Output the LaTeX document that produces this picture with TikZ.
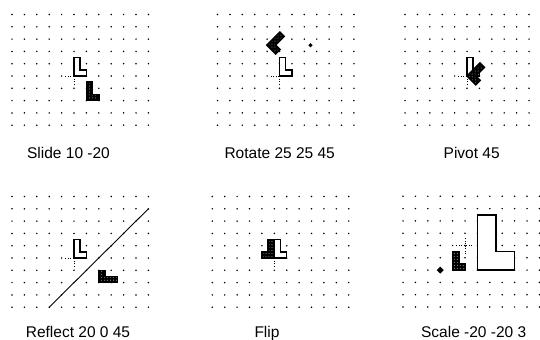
\documentclass[tikz,border=0pt]{standalone}
\usepackage{fontspec}
\setmainfont{Liberation Sans}
\usetikzlibrary{patterns}
\definecolor{ink}{HTML}{000000}
\definecolor{dotgray}{HTML}{B4B4B4}
\newcommand{\ellpath}[1]{\draw[#1] (0,0) -- (10,0) -- (10,5) -- (5,5) -- (5,15) -- (0,15) -- cycle;}
\newcommand{\dotgrid}[2]{\foreach \i in {#1} {\foreach \j in {#2} {\fill[ink] (\i,\j) circle (0.85bp);}}}
\newcommand{\origmark}{\draw[ink,line width=0.9bp,dash pattern=on 0.9bp off 1.6bp] (-7,0) -- (7,0) (0,-7) -- (0,7);}

\begin{document}
\begin{tikzpicture}[x=1.24bp,y=1.23bp,
  hollow/.style={draw=ink,fill=white,line width=1.5bp},
  shaded/.style={draw=ink,line width=1.5bp,preaction={fill=ink},pattern=dots,pattern color=dotgray},
  lbl/.style={anchor=base,inner sep=0pt,font=\fontsize{15.5bp}{18bp}\selectfont}]
\useasboundingbox (0bp,0bp) rectangle (540bp,-340bp);

% top row
\begin{scope}[shift={(74bp,-76bp)}]
\dotgrid{-50,-40,...,60}{-40,-30,...,50}
\origmark
\ellpath{hollow}
\ellpath{shaded,shift={(10,-20)}}
\end{scope}
\begin{scope}[shift={(279.5bp,-76bp)}]
\dotgrid{-50,-40,...,60}{-40,-30,...,50}
\origmark
\ellpath{hollow}
\ellpath{shaded,rotate around={-45:(25,25)}}
\fill[ink] (25,25) +(-1.8,0) -- +(0,1.8) -- +(1.8,0) -- +(0,-1.8) -- cycle;
\end{scope}
\begin{scope}[shift={(467bp,-76bp)}]
\dotgrid{-50,-40,...,50}{-40,-30,...,50}
\origmark
\ellpath{hollow}
\ellpath{shaded,rotate=-45}
\end{scope}

% bottom row
\begin{scope}[shift={(74bp,-258bp)}]
\dotgrid{-50,-40,...,60}{-40,-30,...,50}
\origmark
\draw[ink,line width=0.9bp] (-20,-40) -- (60,40);
\ellpath{hollow}
\draw[shaded] (20,-20) -- (35,-20) -- (35,-15) -- (25,-15) -- (25,-10) -- (20,-10) -- cycle;
\end{scope}
\begin{scope}[shift={(274.3bp,-258bp)}]
\dotgrid{-50,-40,...,60}{-40,-30,...,50}
\origmark
\ellpath{hollow}
\ellpath{shaded,xscale=-1}
\end{scope}
\begin{scope}[shift={(465bp,-245.5bp)}]
\dotgrid{-50,-40,...,60}{-50,-40,...,40}
\origmark
\ellpath{shaded,shift={(-10,-20)}}
\ellpath{hollow,shift={(10,-20)},scale=3}
\fill[ink] (-20,-20) +(-2.8,0) -- +(0,2.8) -- +(2.8,0) -- +(0,-2.8) -- cycle;
\end{scope}

\node[lbl] (lblslide) at (68.5bp,-158.5bp) {Slide 10 -20};
\node[lbl] (lblrotate) at (279.7bp,-158.5bp) {Rotate 25 25 45};
\node[lbl] (lblpivot) at (471.7bp,-158.5bp) {Pivot 45};
\node[lbl] (lblreflect) at (78bp,-337.5bp) {Reflect 20 0 45};
\node[lbl] (lblflip) at (267bp,-337.5bp) {Flip};
\node[lbl] (lblscale) at (473.7bp,-337.5bp) {Scale -20 -20 3};
\end{tikzpicture}
\end{document}
